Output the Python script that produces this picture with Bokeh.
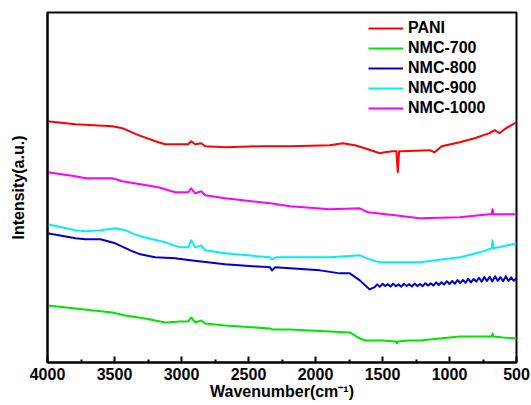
from bokeh.plotting import figure
from bokeh.models import Range1d, Legend, LegendItem, FixedTicker
from bokeh.embed import file_html
from bokeh.resources import INLINE

# ---- data (wavenumber in cm^-1, intensity in arbitrary units) ----
wn_pani = [4000, 3791, 3516, 3441, 3322, 3173, 3121, 2995, 2950, 2928, 2898, 2853, 2823,
           2674, 2400, 2190, 1893, 1796, 1706, 1632, 1520, 1483, 1423, 1396, 1386, 1376,
           1356, 1148, 1111, 1059, 924, 813, 701, 664, 627, 589, 500]
int_pani = [244, 241, 239, 237, 230, 223, 221, 221, 221, 224, 221, 222, 219,
            218, 219, 219, 220, 222, 220, 217, 212, 213, 214, 214, 193, 214,
            214, 215, 213, 219, 223, 227, 232, 235, 232, 236, 243]

wn_700 = [4000, 3791, 3516, 3419, 3270, 3121, 3010, 2950, 2928, 2898, 2853, 2823, 2674,
          2339, 2324, 2190, 1744, 1684, 1632, 1500, 1400, 1392, 1384, 1300, 1222, 924,
          700, 686, 679, 672, 600, 500]
int_700 = [60, 57, 53, 50, 47, 43, 44, 44, 48, 43, 45, 42, 40,
           37, 36, 36, 33, 28, 25, 25, 24, 22, 24, 25, 25, 29,
           29, 29, 32, 29, 28, 27]

wn_800 = [4000, 3791, 3717, 3605, 3494, 3382, 3307, 3196, 3047, 2935, 2674, 2339, 2324,
          2302, 1967, 1818, 1744, 1669, 1595, 1580,
          1560, 1540, 1520, 1500, 1480, 1460, 1440, 1420, 1400, 1380, 1360, 1340, 1320,
          1300, 1280, 1260, 1240, 1220, 1200, 1180, 1160, 1140, 1120, 1100, 1080, 1060,
          1040, 1020, 1000, 980, 960, 940, 920, 900, 880, 860, 840, 820, 800, 780, 760,
          740, 720, 700, 680, 660, 640, 620, 600, 580, 560, 540, 520, 500]
int_800 = [132, 127, 126, 126, 122, 115, 111, 108, 107, 105, 101, 98, 95,
           98, 95, 92, 92, 85, 76, 77,
           78, 81.0, 78.5, 81.5, 79.3, 81.2, 78.8, 81.6, 79.2, 81.0, 78.7, 81.6, 79.4,
           81.2, 78.9, 81.8, 79.3, 81.4, 79.2, 82.2, 79.8, 82.0, 79.8, 83.0, 80.4, 83.2,
           80.8, 84.2, 81.4, 84.4, 81.6, 85.4, 82.2, 85.4, 82.6, 86.6, 83.0, 86.4, 83.8, 87.6, 83.6,
           88.4, 84.4, 88.6, 84.0, 89.2, 84.6, 88.2, 84.2, 89.0, 84.4, 88.0, 84.6, 87.4]

wn_900 = [4000, 3791, 3717, 3605, 3494, 3419, 3307, 3121, 3010, 2950, 2928, 2898, 2853,
          2823, 2674, 2339, 2324, 2295, 1892, 1669, 1595, 1520, 1222, 924, 775, 686,
          679, 672, 500]
int_900 = [141, 135, 134, 135, 137, 135, 129, 123, 118, 118, 125, 118, 120,
           115, 112, 108, 106, 108, 108, 110, 106, 103, 103, 108, 113, 117,
           125, 117, 122]

wn_1000 = [4000, 3791, 3717, 3516, 3441, 3173, 3047, 2950, 2928, 2898, 2853, 2823, 2674,
           2339, 2190, 1893, 1669, 1609, 1408, 1222, 924, 701, 686, 679, 672, 500]
int_1000 = [193, 189, 187, 187, 184, 178, 173, 173, 177, 172, 174, 170, 167,
            162, 159, 156, 157, 153, 150, 147, 148, 151, 151, 156, 151, 151]

series_names = ["PANI", "NMC-700", "NMC-800", "NMC-900", "NMC-1000"]
series_colors = ["#FF0000", "#00E600", "#0000CC", "#00F0F8", "#FF00FF"]

x_ticks = [4000, 3500, 3000, 2500, 2000, 1500, 1000, 500]
x_minor = [3750, 3250, 2750, 2250, 1750, 1250, 750]

FONT = "Liberation Sans"

p = figure(width=531, height=405, output_backend="svg", toolbar_location=None,
           x_range=Range1d(4000, 500), y_range=Range1d(3, 352.5),
           min_border_left=47, min_border_right=15, min_border_top=12, min_border_bottom=43)
p.grid.visible = False
p.outline_line_color = "black"
p.outline_line_width = 2
p.outline_line_alpha = 1

data = [(wn_pani, int_pani), (wn_700, int_700), (wn_800, int_800),
        (wn_900, int_900), (wn_1000, int_1000)]
renderers = []
for (xs, ys), c in zip(data, series_colors):
    r = p.line(xs, ys, line_color=c, line_width=2, line_join="round")
    renderers.append(r)

xa = p.xaxis[0]
xa.ticker = FixedTicker(ticks=x_ticks, minor_ticks=x_minor)
xa.major_tick_in = 6
xa.major_tick_out = 0
xa.minor_tick_in = 3
xa.minor_tick_out = 0
xa.major_tick_line_width = 2
xa.minor_tick_line_width = 2
xa.axis_line_width = 2
xa.major_label_text_font = FONT
xa.major_label_text_font_style = "bold"
xa.major_label_text_font_size = "16px"
xa.major_label_text_color = "black"
xa.major_label_standoff = 5
xa.axis_label = "Wavenumber(cm\u207b\u00b9)"
xa.axis_label_text_font = FONT
xa.axis_label_text_font_style = "bold"
xa.axis_label_text_font_size = "16px"
xa.axis_label_text_color = "black"
xa.axis_label_standoff = 0

ya = p.yaxis[0]
ya.ticker = FixedTicker(ticks=[])
ya.axis_line_width = 2
ya.major_tick_line_color = None
ya.minor_tick_line_color = None
ya.axis_label = "Intensity(a.u.)"
ya.axis_label_text_font = FONT
ya.axis_label_text_font_style = "bold"
ya.axis_label_text_font_size = "16px"
ya.axis_label_text_color = "black"
ya.axis_label_standoff = 21

items = [LegendItem(label=n, renderers=[r]) for n, r in zip(series_names, renderers)]
legend = Legend(items=items, location=(321, 244), glyph_width=35, glyph_height=20,
                label_height=20, label_standoff=5, spacing=0, padding=0, margin=0,
                border_line_color=None, background_fill_alpha=0,
                label_text_font=FONT, label_text_font_style="bold",
                label_text_font_size="16px", label_text_color="black")
p.add_layout(legend)

open("out.html", "w").write(file_html(p, INLINE))
